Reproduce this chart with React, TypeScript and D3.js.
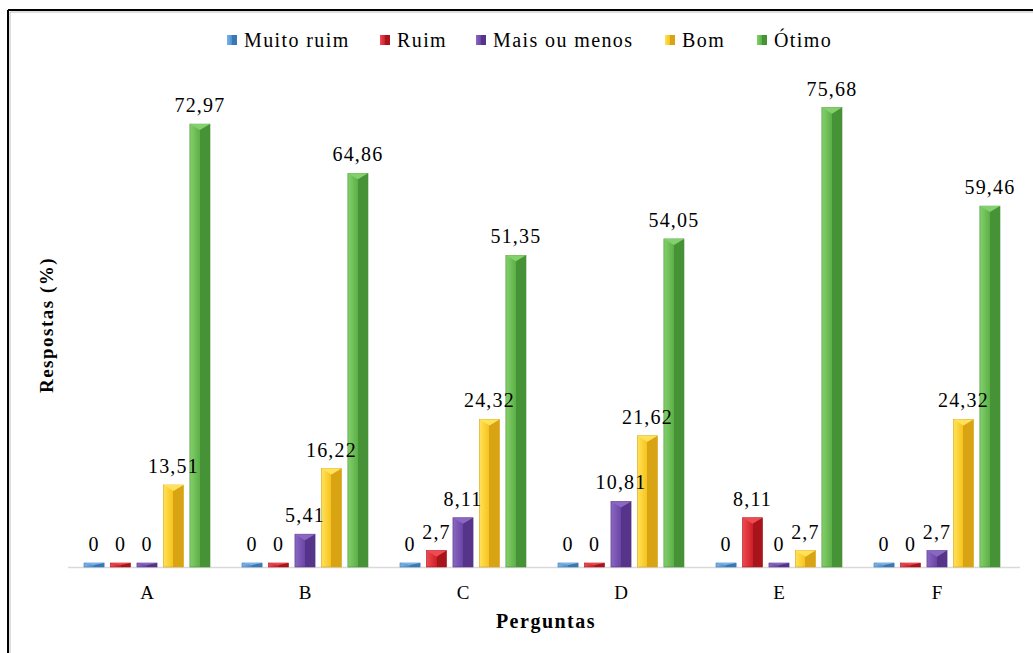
import React from "react";
import * as d3 from "d3";

const categories = ["A", "B", "C", "D", "E", "F"];
const seriesNames = ["Muito ruim", "Ruim", "Mais ou menos", "Bom", "Ótimo"];
const muitoRuim = [0, 0, 0, 0, 0, 0];
const ruim = [0, 0, 2.7, 0, 8.11, 0];
const maisOuMenos = [0, 5.41, 8.11, 10.81, 0, 2.7];
const bom = [13.51, 16.22, 24.32, 21.62, 2.7, 24.32];
const otimo = [72.97, 64.86, 51.35, 54.05, 75.68, 59.46];
const seriesValues = [muitoRuim, ruim, maisOuMenos, bom, otimo];

const colors = [
  { base: "#4a90d2", light: "#7fb3e6", dark: "#3a78b5" },
  { base: "#d0202a", light: "#ef4a52", dark: "#a8141c" },
  { base: "#6b45a6", light: "#8a68c2", dark: "#553489" },
  { base: "#f7c21b", light: "#ffe25a", dark: "#d9a414" },
  { base: "#5caf47", light: "#84d06c", dark: "#469236" },
];

const fmt = (v: number) => String(v).replace(".", ",");

export default function App() {
  const W = 1033;
  const H = 653;
  const x0 = d3.scaleBand<string>().domain(categories).range([68, 1016]).padding(0);
  const groupW = 126;
  const x1 = d3
    .scaleBand<string>()
    .domain(seriesNames)
    .range([0, groupW])
    .paddingInner(0.24)
    .paddingOuter(0);
  const y = d3.scaleLinear().domain([0, 80]).range([567, 567 - 80 * 6.07]);
  const bw = x1.bandwidth();
  const fontStyle = { fontFamily: '"Liberation Serif", serif' };

  const legendX = [227, 380, 476, 665, 757];

  const bars: any[] = [];
  categories.forEach((cat, ci) => {
    const gx = (x0(cat) as number) + x0.bandwidth() / 2 - groupW / 2;
    seriesNames.forEach((s, si) => {
      const v = seriesValues[si][ci];
      const bx = gx + (x1(s) as number);
      const top = Math.min(y(v), y(0) - 4);
      bars.push({ key: cat + s, si, v, bx, top, h: y(0) - top });
    });
  });

  return (
    <svg
      width={W}
      height={H}
      style={{ position: "absolute", left: 0, top: 0, background: "#fff", ...fontStyle }}
    >
      <defs>
        {colors.map((c, i) => (
          <linearGradient id={`g${i}`} key={i} x1="0" x2="1" y1="0" y2="0">
            <stop offset="0" stopColor={c.light} />
            <stop offset="0.5" stopColor={c.base} />
            <stop offset="0.5" stopColor={c.dark} />
            <stop offset="1" stopColor={c.dark} />
          </linearGradient>
        ))}
      </defs>
      <rect x={0} y={0} width={W} height={H} fill="#fff" />
      {/* frame */}
      <line x1={8} y1={10} x2={W} y2={10} stroke="#000" strokeWidth={2} />
      <line x1={8} y1={10} x2={8} y2={H} stroke="#000" strokeWidth={2} />
      <line x1={10} y1={12} x2={W} y2={12} stroke="#bbb" strokeWidth={1} />
      <line x1={10} y1={12} x2={10} y2={H} stroke="#bbb" strokeWidth={1} />

      {/* legend */}
      {seriesNames.map((s, i) => (
        <g key={s}>
          <rect x={legendX[i]} y={35} width={10} height={10} fill={`url(#g${i})`} />
          <text x={legendX[i] + 17} y={47} fontSize={20} letterSpacing={1.4} fill="#000" style={fontStyle}>
            {s}
          </text>
        </g>
      ))}

      {/* baseline */}
      <line x1={68} y1={567.5} x2={1020} y2={567.5} stroke="#d9d9d9" strokeWidth={1.5} />

      {/* bars */}
      {bars.map((b) => {
        const c = colors[b.si];
        const bev = Math.min(bw * 0.3, b.h / 2);
        return (
          <g key={b.key}>
            <rect x={b.bx} y={b.top} width={bw} height={b.h} fill={`url(#g${b.si})`} stroke={c.dark} strokeWidth={0.6} />
            <polygon points={`${b.bx},${b.top} ${b.bx + bw},${b.top} ${b.bx + bw / 2},${b.top + bev}`} fill={c.light} />
          </g>
        );
      })}
      {bars.map((b) => (
        <text
          key={"l" + b.key}
          x={b.bx + bw / 2}
          y={b.top - 12}
          textAnchor="middle"
          fontSize={20}
          letterSpacing={1.2}
          fill="#000"
          style={fontStyle}
        >
          {fmt(b.v)}
        </text>
      ))}
      {categories.map((cat) => (
        <text
          key={"c" + cat}
          x={(x0(cat) as number) + x0.bandwidth() / 2}
          y={599}
          textAnchor="middle"
          fontSize={19}
          fill="#000"
          style={fontStyle}
        >
          {cat}
        </text>
      ))}

      {/* axis titles */}
      <text x={546} y={628} textAnchor="middle" fontSize={20} fontWeight="bold" letterSpacing={1.5} style={fontStyle}>
        Perguntas
      </text>
      <text
        transform={`translate(53,325) rotate(-90)`}
        textAnchor="middle"
        fontSize={19}
        fontWeight="bold"
        letterSpacing={1.5}
        style={fontStyle}
      >
        Respostas (%)
      </text>
    </svg>
  );
}
